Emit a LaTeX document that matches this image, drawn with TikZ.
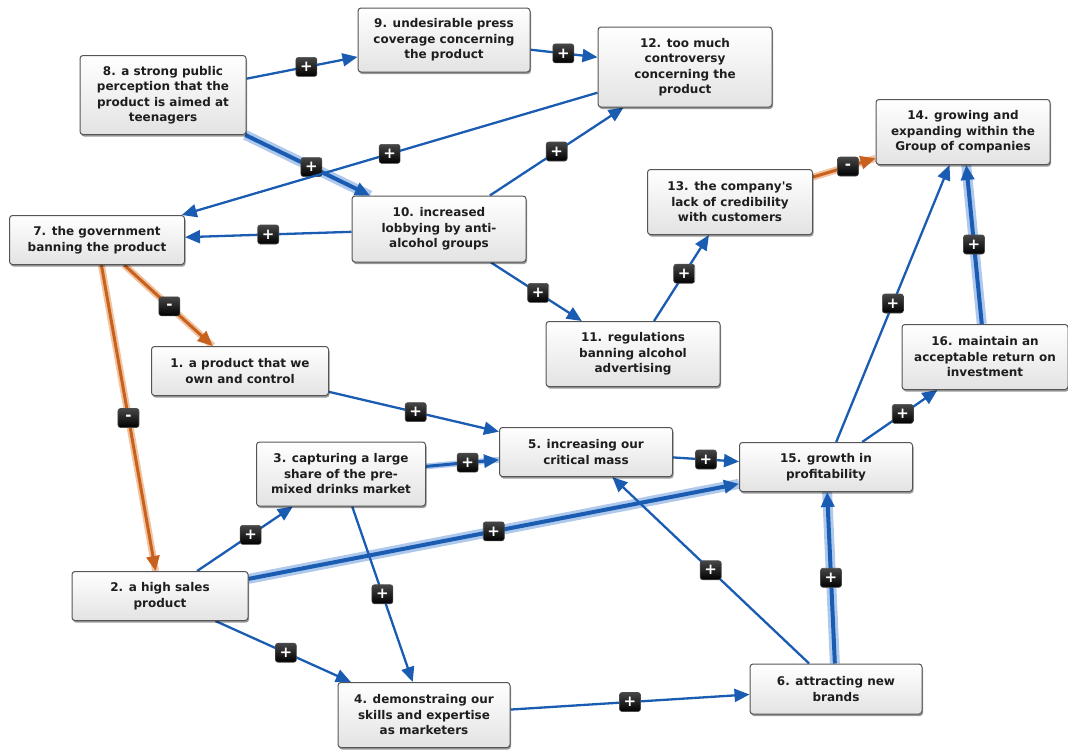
\documentclass[tikz,border=0pt]{standalone}
\usepackage{fontspec}
\setmainfont{DejaVu Sans}[Ligatures=TeXOff]
\usetikzlibrary{arrows.meta,shadows}
\definecolor{eblue}{HTML}{1A5CB2}
\definecolor{ehalo}{HTML}{AFC9EC}
\definecolor{eorange}{HTML}{C8601E}
\definecolor{ohalo}{HTML}{F0C4A0}
\definecolor{boxline}{HTML}{555555}
\definecolor{txt}{HTML}{1E1E1E}
\pgfdeclarelayer{background}
\pgfsetlayers{background,main}
\tikzset{
 box/.style={draw=boxline, line width=1pt, rounded corners=3pt, top color=white, bottom color=gray!22,
   drop shadow={shadow xshift=1pt, shadow yshift=-2pt, opacity=0.4, fill=black},
   font=\fontsize{12}{15.5}\selectfont\bfseries, text=txt, align=center, inner sep=2pt},
 sign/.style={draw=gray!60!black, line width=0.6pt, rounded corners=2.5pt, top color=gray!55!black, bottom color=black,
   text=white, font=\fontsize{15}{15}\selectfont\bfseries, minimum width=21pt, minimum height=19pt, inner sep=0pt},
 pos link/.style={draw=eblue, line width=2.3pt, -{Triangle[length=15pt,width=13pt]}},
 strong/.style={preaction={draw=ehalo, line width=10pt, arrows=-}, line width=4pt},
 medium/.style={preaction={draw=ehalo, line width=6pt, arrows=-}, line width=3pt},
 neg link/.style={draw=eorange, line width=3pt, -{Triangle[length=15pt,width=13pt]},
   preaction={draw=ohalo, line width=7pt, arrows=-}},
}
\begin{document}
\begin{tikzpicture}[x=1pt,y=-1pt]
\useasboundingbox (0,0) rectangle (1068,750);
% nodes
\node[box, minimum width=172pt, minimum height=64pt] (n9)  at (444,40)  {9. undesirable press\\coverage concerning\\the product};
\node[box, minimum width=166pt, minimum height=79pt] (n8)  at (163,95)  {8. a strong public\\perception that the\\product is aimed at\\teenagers};
\node[box, minimum width=174pt, minimum height=80pt] (n12) at (685,67)  {12. too much\\controversy\\concerning the\\product};
\node[box, minimum width=174pt, minimum height=65pt] (n14) at (963,132) {14. growing and\\expanding within the\\Group of companies};
\node[box, minimum width=165pt, minimum height=65pt] (n13) at (730,202) {13. the company's\\lack of credibility\\with customers};
\node[box, minimum width=175pt, minimum height=49pt] (n7)  at (97,240)  {7. the government\\banning the product};
\node[box, minimum width=174pt, minimum height=66pt] (n10) at (439,229) {10. increased\\lobbying by anti-\\alcohol groups};
\node[box, minimum width=174pt, minimum height=65pt] (n11) at (633,354) {11. regulations\\banning alcohol\\advertising};
\node[box, minimum width=166pt, minimum height=65pt] (n16) at (985,357) {16. maintain an\\acceptable return on\\investment};
\node[box, minimum width=177pt, minimum height=49pt] (n1)  at (240,371) {1. a product that we\\own and control};
\node[box, minimum width=173pt, minimum height=49pt] (n5)  at (586,452) {5. increasing our\\critical mass};
\node[box, minimum width=169pt, minimum height=64pt] (n3)  at (341,474) {3. capturing a large\\share of the pre-\\mixed drinks market};
\node[box, minimum width=173pt, minimum height=49pt] (n15) at (826,467) {15. growth in\\profitability};
\node[box, minimum width=176pt, minimum height=49pt] (n2)  at (160,596) {2. a high sales\\product};
\node[box, minimum width=172pt, minimum height=65pt] (n4)  at (424,715) {4. demonstraing our\\skills and expertise\\as marketers};
\node[box, minimum width=172pt, minimum height=50pt] (n6)  at (836,689) {6. attracting new\\brands};
% connectors
\begin{pgfonlayer}{background}
\draw[pos link] (n8) -- node[sign,pos=0.54]{+} (n9);
\draw[pos link] (n9) -- node[sign,pos=0.49]{+} (n12);
\draw[pos link,strong] (n8) -- node[sign,pos=0.53]{+} (n10);
\draw[pos link] (n12) -- node[sign,pos=0.5]{+} (n7);
\draw[pos link] (n10) -- node[sign,pos=0.5]{+} (n12);
\draw[pos link] (n10) -- node[sign,pos=0.5]{+} (n7);
\draw[pos link] (n10) -- node[sign,pos=0.52]{+} (n11);
\draw[pos link] (n11) -- node[sign,pos=0.55]{+} (n13);
\draw[neg link] (n13) -- node[sign,pos=0.56]{-} (n14);
\draw[neg link] (n7) -- node[sign,pos=0.51]{-} (n1);
\draw[neg link] (n7) -- node[sign,pos=0.5]{-} (n2);
\draw[pos link] (n1) -- node[sign,pos=0.51]{+} (n5);
\draw[pos link,medium] (n3) -- node[sign,pos=0.57]{+} (n5);
\draw[pos link] (n5) -- node[sign,pos=0.5]{+} (n15);
\draw[pos link] (n2) -- node[sign,pos=0.56]{+} (n3);
\draw[pos link,strong] (n2) -- node[sign,pos=0.5]{+} (n15);
\draw[pos link] (n3) -- node[sign,pos=0.5]{+} (n4);
\draw[pos link] (n2) -- node[sign,pos=0.52]{+} (n4);
\draw[pos link] (n4) -- node[sign,pos=0.5]{+} (n6);
\draw[pos link] (n6) -- node[sign,pos=0.5]{+} (n5);
\draw[pos link,strong] (n6) -- node[sign,pos=0.5]{+} (n15);
\draw[pos link] (n15) -- node[sign,pos=0.5]{+} (n14);
\draw[pos link] (n15) -- node[sign,pos=0.54]{+} (n16);
\draw[pos link,strong] (n16) -- node[sign,pos=0.5]{+} (n14);
\end{pgfonlayer}
\end{tikzpicture}
\end{document}
